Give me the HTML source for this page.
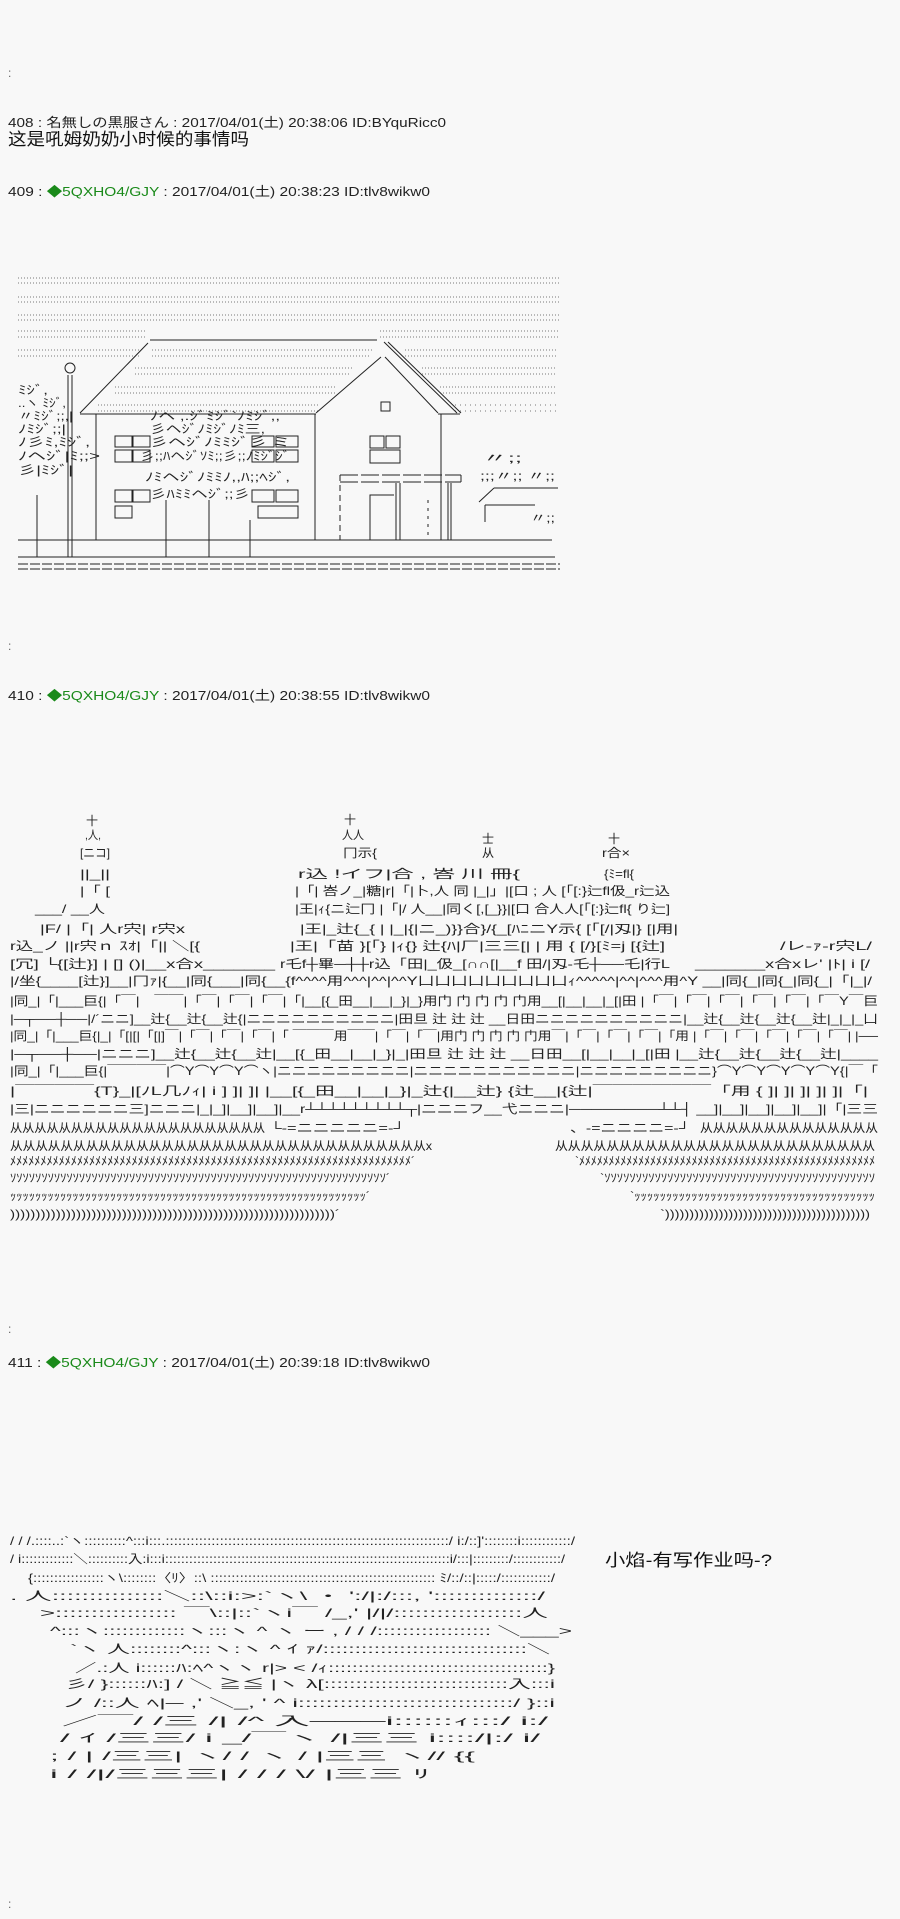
<!DOCTYPE html>
<html><head><meta charset="utf-8"><style>
html,body{margin:0;padding:0;background:#f8f8f8;}
svg{display:block}
text{font-family:"Liberation Sans","Noto Sans CJK JP",sans-serif;}
.h{font-size:13px;fill:#222}
.a{font-size:12px;fill:#222}
.d{font-size:12px;fill:#666}
</style></head><body>
<svg width="900" height="1919" viewBox="0 0 900 1919" xmlns="http://www.w3.org/2000/svg">
<rect width="900" height="1919" fill="#f8f8f8"/>
<text class="d" x="8" y="77">:</text>
<text class="h" x="8" y="127" textLength="438" lengthAdjust="spacingAndGlyphs">408 : 名無しの黒服さん : 2017/04/01(土) 20:38:06 ID:BYquRicc0</text>
<text x="8" y="145" style="font-size:17px;fill:#111" textLength="241" lengthAdjust="spacingAndGlyphs">这是吼姆奶奶小时候的事情吗</text>
<text class="h" x="8" y="196" textLength="422" lengthAdjust="spacingAndGlyphs">409 : <tspan fill="#1a8a1a">◆5QXHO4/GJY</tspan> : 2017/04/01(土) 20:38:23 ID:tlv8wikw0</text>

<!-- HOUSE -->
<g stroke="#777" stroke-width="1" stroke-dasharray="1,2" fill="none">
<line x1="18" y1="278" x2="560" y2="278"/><line x1="18" y1="283" x2="560" y2="283"/>
<line x1="18" y1="297" x2="560" y2="297"/><line x1="18" y1="302" x2="560" y2="302"/>
<line x1="18" y1="315" x2="560" y2="315"/><line x1="18" y1="320" x2="560" y2="320"/>
<line x1="18" y1="331" x2="145" y2="331"/><line x1="18" y1="337" x2="145" y2="337"/>
<line x1="380" y1="331" x2="560" y2="331"/><line x1="380" y1="337" x2="560" y2="337"/>
<line x1="18" y1="350" x2="140" y2="350"/><line x1="18" y1="356" x2="140" y2="356"/>
<line x1="152" y1="350" x2="372" y2="350"/><line x1="152" y1="356" x2="370" y2="356"/>
<line x1="405" y1="350" x2="556" y2="350"/><line x1="405" y1="356" x2="556" y2="356"/>
<line x1="135" y1="368" x2="352" y2="368"/><line x1="135" y1="374" x2="350" y2="374"/>
<line x1="422" y1="368" x2="556" y2="368"/><line x1="422" y1="374" x2="556" y2="374"/>
<line x1="115" y1="387" x2="335" y2="387"/><line x1="115" y1="393" x2="335" y2="393"/>
<line x1="440" y1="387" x2="556" y2="387"/><line x1="440" y1="393" x2="556" y2="393"/>
<line x1="98" y1="405" x2="318" y2="405"/><line x1="98" y1="411" x2="318" y2="411"/>
<line x1="455" y1="405" x2="556" y2="405" stroke-dasharray="1,4"/><line x1="455" y1="411" x2="556" y2="411" stroke-dasharray="1,4"/>
</g>
<g stroke="#222" stroke-width="1" fill="none">
<line x1="150" y1="340" x2="377" y2="340"/>
<line x1="148" y1="343" x2="80" y2="413"/>
<line x1="384" y1="342" x2="457" y2="413"/>
<line x1="388" y1="342" x2="461" y2="413"/>
<line x1="381" y1="357" x2="316" y2="413"/>
<line x1="385" y1="357" x2="438" y2="413"/>
<line x1="80" y1="414" x2="316" y2="414"/>
<line x1="438" y1="414" x2="460" y2="414"/>
<line x1="96" y1="414" x2="96" y2="540"/>
<line x1="315" y1="414" x2="315" y2="540"/>
<line x1="441" y1="414" x2="441" y2="540"/>
<rect x="381" y="402" width="9" height="9"/>
<rect x="115" y="436" width="17" height="11"/><rect x="133" y="436" width="17" height="11"/>
<rect x="115" y="450" width="17" height="12"/><rect x="133" y="450" width="17" height="12"/>
<rect x="115" y="490" width="17" height="12"/><rect x="133" y="490" width="17" height="12"/>
<rect x="115" y="506" width="17" height="12"/>
<rect x="252" y="436" width="22" height="11"/><rect x="276" y="436" width="22" height="11"/>
<rect x="252" y="450" width="22" height="12"/><rect x="276" y="450" width="22" height="12"/>
<rect x="252" y="490" width="22" height="12"/><rect x="276" y="490" width="22" height="12"/>
<rect x="258" y="506" width="40" height="12"/>
<rect x="370" y="436" width="14" height="12"/><rect x="386" y="436" width="14" height="12"/>
<rect x="370" y="450" width="30" height="13"/>
<line x1="340" y1="475" x2="461" y2="475" stroke-dasharray="18,3"/>
<line x1="340" y1="482" x2="461" y2="482" stroke-dasharray="18,3"/>
<line x1="340" y1="475" x2="340" y2="540" stroke-dasharray="6,4"/>
<line x1="461" y1="475" x2="461" y2="482"/>
<polyline points="370,540 370,495 394,495"/>
<line x1="396" y1="483" x2="396" y2="540"/><line x1="400" y1="483" x2="400" y2="540"/>
<line x1="448" y1="483" x2="448" y2="540"/><line x1="451" y1="483" x2="451" y2="540"/>
<line x1="428" y1="500" x2="428" y2="540" stroke-dasharray="3,5"/>
<line x1="18" y1="540" x2="552" y2="540"/>
<line x1="18" y1="557" x2="555" y2="557"/>
<line x1="18" y1="564" x2="560" y2="564" stroke-dasharray="10,2"/>
<line x1="18" y1="569" x2="560" y2="569" stroke-dasharray="10,2"/>
<circle cx="70" cy="368" r="5"/>
<line x1="68" y1="375" x2="68" y2="557"/><line x1="72" y1="375" x2="72" y2="557"/>
<line x1="479" y1="502" x2="494" y2="488"/>
<line x1="494" y1="488" x2="558" y2="488"/>
<line x1="485" y1="505" x2="535" y2="505"/>
<line x1="485" y1="505" x2="485" y2="522"/>
<line x1="37" y1="495" x2="37" y2="557"/><line x1="166" y1="500" x2="166" y2="557"/><line x1="209" y1="500" x2="209" y2="557"/><line x1="250" y1="520" x2="250" y2="557"/>
</g>
<g class="a">
<text x="18" y="394" textLength="30" lengthAdjust="spacingAndGlyphs">ﾐｼﾞ,</text>
<text x="18" y="407" textLength="48" lengthAdjust="spacingAndGlyphs">..ヽ ﾐｼﾞ,</text>
<text x="18" y="420" textLength="55" lengthAdjust="spacingAndGlyphs">〃ﾐｼﾞ;;,|</text>
<text x="18" y="433" textLength="48" lengthAdjust="spacingAndGlyphs">ﾉﾐｼﾞ;;|</text>
<text x="18" y="446" textLength="72" lengthAdjust="spacingAndGlyphs">ﾉ彡ﾐ,ﾐｼﾞ,</text>
<text x="18" y="460" textLength="82" lengthAdjust="spacingAndGlyphs">ﾉヘｼﾞ|ﾐ;;&gt;</text>
<text x="18" y="474" textLength="55" lengthAdjust="spacingAndGlyphs">彡|ﾐｼﾞ|</text>
<text x="150" y="420" textLength="130" lengthAdjust="spacingAndGlyphs">ﾉヘ ,.ｼﾞﾐｼﾞ`ﾉﾐｼﾞ,,</text>
<text x="150" y="433" textLength="115" lengthAdjust="spacingAndGlyphs">彡ヘｼﾞﾉﾐｼﾞﾉﾐ三,</text>
<text x="150" y="446" textLength="140" lengthAdjust="spacingAndGlyphs">彡ヘｼﾞﾉﾐﾐｼﾞ彡 ミ</text>
<text x="140" y="460" textLength="150" lengthAdjust="spacingAndGlyphs">彡;;ﾊヘｼﾞｿﾐ;;彡;;ﾉﾐｼﾞｼﾞ</text>
<text x="145" y="481" textLength="145" lengthAdjust="spacingAndGlyphs">ﾉﾐヘｼﾞﾉﾐﾐﾉ,,ﾊ;;ﾍｼﾞ,</text>
<text x="150" y="498" textLength="100" lengthAdjust="spacingAndGlyphs">彡ﾊﾐﾐヘｼﾞ;;彡</text>
<text x="482" y="462" textLength="40" lengthAdjust="spacingAndGlyphs">〃;;</text>
<text x="480" y="480" textLength="75" lengthAdjust="spacingAndGlyphs">;;;〃;; 〃;;</text>
<text x="530" y="522" textLength="25" lengthAdjust="spacingAndGlyphs">〃;;</text>
</g>

<!-- 410 -->
<text class="d" x="8" y="650">:</text>
<text class="h" x="8" y="700" textLength="422" lengthAdjust="spacingAndGlyphs">410 : <tspan fill="#1a8a1a">◆5QXHO4/GJY</tspan> : 2017/04/01(土) 20:38:55 ID:tlv8wikw0</text>
<g class="a">
<text x="86" y="825">十</text><text x="344" y="824">十</text>
<text x="85" y="839" textLength="16" lengthAdjust="spacingAndGlyphs">,人,</text>
<text x="342" y="839" textLength="22" lengthAdjust="spacingAndGlyphs">人人</text>
<text x="482" y="843">士</text><text x="608" y="843">十</text>
<text x="80" y="857" textLength="30" lengthAdjust="spacingAndGlyphs">[ニコ]</text>
<text x="343" y="857" textLength="34" lengthAdjust="spacingAndGlyphs">冂示{</text>
<text x="482" y="857">从</text>
<text x="602" y="857" textLength="28" lengthAdjust="spacingAndGlyphs">r合×</text>
<text x="80" y="878" textLength="30" lengthAdjust="spacingAndGlyphs">||_||</text>
<text x="298" y="878" textLength="222" lengthAdjust="spacingAndGlyphs">r込    !イフ|合    ,     峇  川   冊{</text>
<text x="604" y="878" textLength="30" lengthAdjust="spacingAndGlyphs">{ﾐ=fl{</text>
<text x="80" y="895" textLength="30" lengthAdjust="spacingAndGlyphs">|「 [</text>
<text x="295" y="895" textLength="375" lengthAdjust="spacingAndGlyphs">|「| 峇ノ_|糖|r|「|卜,人    同  |_|」|[口  ;   人 [「[:}辷fl伋_r辷込</text>
<text x="35" y="913" textLength="70" lengthAdjust="spacingAndGlyphs">___/ __人</text>
<text x="295" y="913" textLength="375" lengthAdjust="spacingAndGlyphs">|王|ｨ{ニ辷冂 |「|/ 人__|同く[,[_}}|[口 合人人[「[:}辷fl{ り辷]</text>
<text x="40" y="933" textLength="145" lengthAdjust="spacingAndGlyphs">|F/ |「| 人r宍| r宍x</text>
<text x="300" y="933" textLength="378" lengthAdjust="spacingAndGlyphs">|王|_辻{_{ | |_|{|ニ_)}}合}/{_[ﾊﾆニY示{ [「[/|刄|} [|用|</text>
<text x="10" y="950" textLength="190" lengthAdjust="spacingAndGlyphs">r込_ノ   ||r宍ｎ ｽｵ|「|| ＼[{</text>
<text x="290" y="950" textLength="375" lengthAdjust="spacingAndGlyphs">|王|「苗 }[「} |ｨ{} 辻{ﾊ|厂|三三[|  | 用 { [/}[ﾐ=j  [{辻]</text>
<text x="780" y="950" textLength="92" lengthAdjust="spacingAndGlyphs">/レ-ｧ-r宍L/</text>
<text x="10" y="968" textLength="265" lengthAdjust="spacingAndGlyphs">[冗]    └{[辻}] | [] ()|__x合x_______</text>
<text x="280" y="968" textLength="390" lengthAdjust="spacingAndGlyphs">r乇f┼畢─┼┼r込「田|_伋_[∩∩[|__f 田/|刄-乇┼──乇|行L</text>
<text x="695" y="968" textLength="175" lengthAdjust="spacingAndGlyphs">_______x合xレ' |ﾄ| i [/</text>
<text x="10" y="985" textLength="862" lengthAdjust="spacingAndGlyphs">|/坐{____[辻}]__|冂ｧ|{__|同{___|同{__{f^^^^用^^^|^^|^^Y凵凵凵凵凵凵凵凵凵ｨ^^^^^|^^|^^^用^Y __|同{_|同{_|同{_|「|_|/</text>
<text x="10" y="1005" textLength="868" lengthAdjust="spacingAndGlyphs">|同_|「|___巨{|「￣|　￣￣|「￣|「￣|「￣|「|__[{_田__|__|_}|_}用门 门 门 门  门用__[|__|__|_[|田 |「￣|「￣|「￣|「￣|「￣|「￣Y￣巨</text>
<text x="10" y="1023" textLength="868" lengthAdjust="spacingAndGlyphs">|─┬──┼──|/´ニニ]__辻{__辻{__辻{|ニニニニニニニニニニ|田旦 辻 辻 辻 __日田ニニニニニニニニニニ|__辻{__辻{__辻{__辻|_|_|_凵</text>
<text x="10" y="1040" textLength="868" lengthAdjust="spacingAndGlyphs">|同_|「|___巨{|_|「[|[|「[|]￣|「￣|「￣|「￣|「 ￣￣￣用￣￣|「￣|「￣|用门 门 门 门  门用￣|「￣|「￣|「￣|「用 |「￣|「￣|「￣|「￣|「￣| |──</text>
<text x="10" y="1058" textLength="868" lengthAdjust="spacingAndGlyphs">|─┬──┼──|ニニニ]__辻{__辻{__辻|__[{_田__|__|_}|_|田旦 辻 辻 辻 __日田__[|__|__|_[|田 |__辻{__辻{__辻{__辻|____</text>
<text x="10" y="1075" textLength="868" lengthAdjust="spacingAndGlyphs">|同_|「|___巨{|￣￣￣￣|⌒Y⌒Y⌒Y⌒ヽ|ニニニニニニニニニ|ニニニニニニニニニニニ|ニニニニニニニニニ}⌒Y⌒Y⌒Y⌒Y⌒Y{|￣「</text>
<text x="10" y="1095" textLength="858" lengthAdjust="spacingAndGlyphs">|￣￣￣￣{T}_|[ﾉL几ﾉｨ| i ]    ]|    ]|   |__[{_田__|__|_}|_辻{|__辻}  {辻__|{辻|￣￣￣￣￣￣「用  {    ]|    ]|    ]|   ]|  ]|「|</text>
<text x="10" y="1113" textLength="868" lengthAdjust="spacingAndGlyphs">|三|ニニニニニニ三]ニニニ|_|_]|__]|__]|__r┴┴┴┴┴┴┴┴┴┬|ニニニフ__弋ニニニ|────────┴┴┤ __]|__]|__]|__]|__]|「|三三</text>
<text x="10" y="1132" textLength="255" lengthAdjust="spacingAndGlyphs">从从从从从从从从从从从从从从从从从从从从从</text>
<text x="270" y="1132" textLength="135" lengthAdjust="spacingAndGlyphs">└-=ニニニニニ=-┘</text>
<text x="570" y="1132" textLength="120" lengthAdjust="spacingAndGlyphs">、-=ニニニニ=-┘</text>
<text x="700" y="1132" textLength="178" lengthAdjust="spacingAndGlyphs">从从从从从从从从从从从从从从</text>
<text x="10" y="1150" textLength="422" lengthAdjust="spacingAndGlyphs">从从从从从从从从从从从从从从从从从从从从从从从从从从从从从从从从从x</text>
<text x="555" y="1150" textLength="320" lengthAdjust="spacingAndGlyphs">从从从从从从从从从从从从从从从从从从从从从从从从从</text>
<text x="10" y="1165" textLength="405" lengthAdjust="spacingAndGlyphs">ﾒﾒﾒﾒﾒﾒﾒﾒﾒﾒﾒﾒﾒﾒﾒﾒﾒﾒﾒﾒﾒﾒﾒﾒﾒﾒﾒﾒﾒﾒﾒﾒﾒﾒﾒﾒﾒﾒﾒﾒﾒﾒﾒﾒﾒﾒﾒﾒﾒﾒﾒﾒﾒﾒﾒﾒﾒﾒﾒﾒﾒﾒﾒﾒﾒﾒ´</text>
<text x="575" y="1165" textLength="300" lengthAdjust="spacingAndGlyphs">`ﾒﾒﾒﾒﾒﾒﾒﾒﾒﾒﾒﾒﾒﾒﾒﾒﾒﾒﾒﾒﾒﾒﾒﾒﾒﾒﾒﾒﾒﾒﾒﾒﾒﾒﾒﾒﾒﾒﾒﾒﾒﾒﾒﾒﾒﾒﾒﾒﾒﾒ</text>
<text x="10" y="1182" textLength="380" lengthAdjust="spacingAndGlyphs">ｿｿｿｿｿｿｿｿｿｿｿｿｿｿｿｿｿｿｿｿｿｿｿｿｿｿｿｿｿｿｿｿｿｿｿｿｿｿｿｿｿｿｿｿｿｿｿｿｿｿｿｿｿｿｿｿｿｿｿｿ´</text>
<text x="600" y="1182" textLength="275" lengthAdjust="spacingAndGlyphs">`ｿｿｿｿｿｿｿｿｿｿｿｿｿｿｿｿｿｿｿｿｿｿｿｿｿｿｿｿｿｿｿｿｿｿｿｿｿｿｿｿｿｿｿ</text>
<text x="10" y="1200" textLength="360" lengthAdjust="spacingAndGlyphs">ｯｯｯｯｯｯｯｯｯｯｯｯｯｯｯｯｯｯｯｯｯｯｯｯｯｯｯｯｯｯｯｯｯｯｯｯｯｯｯｯｯｯｯｯｯｯｯｯｯｯｯｯｯｯｯｯｯ´</text>
<text x="630" y="1200" textLength="245" lengthAdjust="spacingAndGlyphs">`ｯｯｯｯｯｯｯｯｯｯｯｯｯｯｯｯｯｯｯｯｯｯｯｯｯｯｯｯｯｯｯｯｯｯｯｯｯｯ</text>
<text x="10" y="1218" textLength="330" lengthAdjust="spacingAndGlyphs">))))))))))))))))))))))))))))))))))))))))))))))))))))))))))))))))´</text>
<text x="660" y="1218" textLength="210" lengthAdjust="spacingAndGlyphs">`))))))))))))))))))))))))))))))))))))))))))</text>
</g>

<!-- 411 -->
<text class="d" x="8" y="1333">:</text>
<text class="h" x="8" y="1367" textLength="422" lengthAdjust="spacingAndGlyphs">411 : <tspan fill="#1a8a1a">◆5QXHO4/GJY</tspan> : 2017/04/01(土) 20:39:18 ID:tlv8wikw0</text>
<text x="605" y="1566" style="font-size:17px;fill:#111" textLength="167" lengthAdjust="spacingAndGlyphs">小焰-有写作业吗-?</text>
<g class="a">
<text x="10" y="1545" textLength="565" lengthAdjust="spacingAndGlyphs">/ / /.::::..:`ヽ::::::::::^:::i:::.::::::::::::::::::::::::::::::::::::::::::::::::::::::::::::::::::::/  i:/::]'::::::::i::::::::::::/</text>
<text x="10" y="1563" textLength="555" lengthAdjust="spacingAndGlyphs">/ i:::::::::::::＼::::::::::入:i:::i:::::::::::::::::::::::::::::::::::::::::::::::::::::::::::::::::::::::i/:::|:::::::::/::::::::::::/</text>
<text x="28" y="1582" textLength="527" lengthAdjust="spacingAndGlyphs">{:::::::::::::::::ヽ\::::::::〈ﾘ〉::\    ::::::::::::::::::::::::::::::::::::::::::::::::::::::  ﾐ/::/::|:::::/::::::::::::/</text>
<text x="10" y="1600" textLength="535" lengthAdjust="spacingAndGlyphs">. 人:::::::::::::::＼::\::i:&gt;:`ヽ\               ・                     ':/|:/:::,  '::::::::::::::/</text>
<text x="40" y="1617" textLength="508" lengthAdjust="spacingAndGlyphs">&gt;::::::::::::::::: ￣\::|::`ヽi￣                                    /_,' |/|/::::::::::::::::::人</text>
<text x="50" y="1635" textLength="522" lengthAdjust="spacingAndGlyphs">^:::ヽ:::::::::::::ヽ:::ヽ    ^          ヽ ー ,         /     / /:::::::::::::::::: ＼___&gt;</text>
<text x="70" y="1653" textLength="480" lengthAdjust="spacingAndGlyphs">`ヽ 人::::::::^:::ヽ:ヽ    ^                     ｲ       ｧ/::::::::::::::::::::::::::::::::＼</text>
<text x="75" y="1672" textLength="480" lengthAdjust="spacingAndGlyphs">／.:人 i::::::ﾊ:ﾍ^ヽヽ     r|&gt;            &lt;          /ｨ:::::::::::::::::::::::::::::::::::::}</text>
<text x="65" y="1688" textLength="490" lengthAdjust="spacingAndGlyphs">彡/    }::::::ﾊ:]          /   ＼   ≧≦     |ヽ         λ[:::::::::::::::::::::::::::::入:::i</text>
<text x="62" y="1707" textLength="493" lengthAdjust="spacingAndGlyphs">ノ     /::人    ﾍ|─ ,'          ＼_,  '  ^            i:::::::::::::::::::::::::::::::/    }::i</text>
<text x="62" y="1725" textLength="486" lengthAdjust="spacingAndGlyphs">／￣/    /三 /|            /^          入───i::::::ｨ:::/             i:/</text>
<text x="60" y="1742" textLength="480" lengthAdjust="spacingAndGlyphs">/     ｲ       /三三/  i      _/￣ヽ            /|三三  i::::/|:/                i/</text>
<text x="50" y="1760" textLength="425" lengthAdjust="spacingAndGlyphs">;     /    |   /三三|    ヽ/     /       ヽ     / |三三    ヽ// {{</text>
<text x="50" y="1778" textLength="380" lengthAdjust="spacingAndGlyphs">i  /      /|/三三三|  /    /  /        \/   |三三      ﾘ</text>
</g>
<text class="d" x="8" y="1908">:</text>
</svg>
</body></html>
